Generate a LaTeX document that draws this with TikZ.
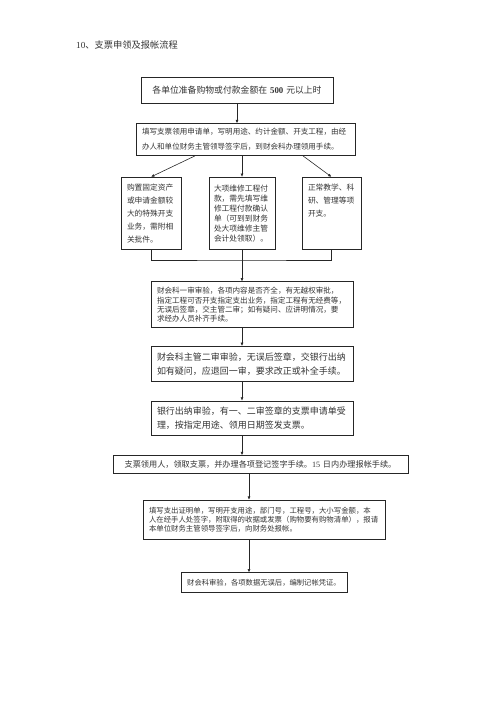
\documentclass[tikz,border=0pt]{standalone}
\usepackage{fontspec}
\setmainfont{Noto Sans CJK SC}
\newfontfamily\latinfont{Liberation Serif}
\usetikzlibrary{arrows.meta, positioning, calc}
\newdimen\pxu
\pxu=1.19pt

\begin{document}
\begin{tikzpicture}[
  x=1.19pt, y=-1.19pt,
  box/.style={draw=black!85, line width=0.7pt, inner xsep=6\pxu, inner ysep=0pt, align=left, text=black!80},
  edge/.style={-{Latex[length=4pt, width=3.5pt]}, line width=0.7pt, draw=black!85},
  link/.style={line width=0.7pt, draw=black!85}
]
\useasboundingbox (0,0) rectangle (500,707);
\coordinate (spine) at (242,0);
\coordinate (spine2) at (249,0);
\coordinate (join) at (242,260);

\node[anchor=west, inner sep=0pt, text=black!80, font=\fontsize{11}{13}\selectfont] (title) at (76,45) {{\latinfont 10}、支票申领及报帐流程};

\node[box, align=center, text width=180\pxu, minimum height=26\pxu, font=\fontsize{10.5}{12}\selectfont] (start) at (237,90)
  {各单位准备购物或付款金额在 {\latinfont\bfseries 500} 元以上时};
\node[box, text width=207\pxu, minimum height=32\pxu, font=\fontsize{9}{17.9}\selectfont, below=20\pxu of start, xshift=8.5\pxu] (apply)
  {填写支票领用申请单，写明用途、约计金额、开支工程，由经\\办人和单位财务主管领导签字后，到财会科办理领用手续。};

% three kinds of expense
\node[box, text width=48\pxu, minimum height=72\pxu, font=\fontsize{9.2}{15.5}\selectfont, below=21\pxu of apply, xshift=-94.5\pxu] (fixed)
  {购置固定资产\\或申请金额较\\大的特殊开支\\业务，需附相\\关批件。};
\node[box, text width=56\pxu, inner xsep=5\pxu, minimum height=72\pxu, font=\fontsize{9.2}{11.9}\selectfont, below=21\pxu of apply, xshift=-3.5\pxu] (repair)
  {大项维修工程付\\款，需先填写维\\修工程付款确认\\单（可到到财务\\处大项维修主管\\会计处领取）。};
\node[box, text width=47\pxu, minimum height=72\pxu, font=\fontsize{9.2}{15.5}\selectfont, below=21\pxu of apply, xshift=86\pxu] (routine)
  {正常教学、科\\研、管理等项\\开支。\\\mbox{}\\\mbox{}};

\node[box, text width=190\pxu, minimum height=46\pxu, font=\fontsize{9}{11.1}\selectfont, below=32\pxu of repair, xshift=10\pxu] (first)
  {财会科一审审验，各项内容是否齐全，有无越权审批，\\指定工程可否开支指定支出业务，指定工程有无经费等，\\无误后签章，交主管二审；如有疑问、应讲明情况，要\\求经办人员补齐手续。};
\node[box, text width=190\pxu, minimum height=35\pxu, font=\fontsize{10.7}{16.7}\selectfont, below=18\pxu of first] (second)
  {财会科主管二审审验，无误后签章，交银行出纳\\如有疑问，应退回一审，要求改正或补全手续。};
\node[box, text width=190\pxu, minimum height=34\pxu, font=\fontsize{10.7}{16.2}\selectfont, below=19\pxu of second] (cashier)
  {银行出纳审验，有一、二审签章的支票申请单受\\理，按指定用途、领用日期签发支票。};
\node[box, align=center, text width=283\pxu, minimum height=18\pxu, font=\fontsize{9.7}{11}\selectfont, below=20\pxu of cashier, xshift=8.5\pxu] (collect)
  {支票领用人，领取支票，并办理各项登记签字手续。{\latinfont 15} 日内办理报帐手续。};
\node[box, text width=230\pxu, minimum height=39\pxu, font=\fontsize{8.8}{11.1}\selectfont, below=26\pxu of collect, xshift=3.5\pxu] (claim)
  {填写支出证明单，写明开支用途，部门号，工程号，大小写金额，本\\人在经手人处签字，附取得的收据或发票（购物要有购物清单），报请\\本单位财务主管领导签字后，向财务处报帐。};
\node[box, align=center, text width=154\pxu, minimum height=20\pxu, font=\fontsize{8.7}{10}\selectfont, below=33\pxu of claim] (voucher)
  {财会科审验，各项数据无误后，编制记帐凭证。};

\draw[edge] (start.south) -- (start.south |- apply.north);
\draw[edge] ($(apply.south)+(-50.5,0)$) -- (fixed.north);
\draw[edge] (apply.south -| spine) -- (repair.north -| spine);
\draw[edge] ($(apply.south)+(57.5,0)$) -- (routine.north);
\draw[link] (fixed.south) |- (join) -| (routine.south);
\draw[edge] (repair.south -| spine) -- (first.north -| spine);
\draw[edge] (first.south -| spine) -- (second.north -| spine);
\draw[edge] (second.south -| spine) -- (cashier.north -| spine);
\draw[edge] (cashier.south -| spine) -- (collect.north -| spine);
\draw[edge] (collect.south -| spine2) -- (claim.north -| spine2);
\draw[edge] (claim.south -| spine2) -- (voucher.north -| spine2);
\end{tikzpicture}
\end{document}
